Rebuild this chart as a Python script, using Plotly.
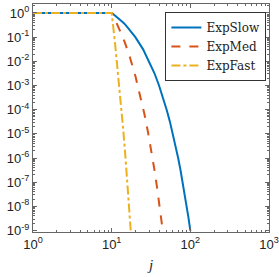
import plotly.graph_objects as go

# --- data ---
j_slow = [1, 10, 11, 12, 13, 14, 15, 17, 20, 25, 30, 35, 40, 45, 50, 55, 60, 65, 70, 75, 80, 85, 90, 95, 100]
exp_slow = [1, 1, 0.79, 0.63, 0.5, 0.4, 0.32, 0.2, 0.1, 3.2e-2, 1e-2, 3.2e-3, 1e-3, 3.2e-4, 1e-4,
            3.2e-5, 1e-5, 3.2e-6, 1e-6, 3.2e-7, 1e-7, 3.2e-8, 1e-8, 3.2e-9, 1e-9]

j_med = [1, 10, 11, 12, 13, 14, 15, 17, 20, 23, 26, 29, 32, 35, 38, 41, 44, 45]
exp_med = [1, 1, 0.55, 0.30, 0.17, 9.1e-2, 5e-2, 1.5e-2, 2.5e-3, 4.2e-4, 6.9e-5, 1.15e-5,
           1.9e-6, 3.2e-7, 5.2e-8, 8.7e-9, 1.4e-9, 7.9e-10]

j_fast = [1, 10, 11, 12, 13, 14, 15, 16, 17, 18]
exp_fast = [1, 1, 6.3e-2, 4e-3, 2.5e-4, 1.6e-5, 1e-6, 6.3e-8, 4e-9, 2.5e-10]

names = ["ExpSlow", "ExpMed", "ExpFast"]
colors = ["#0072BD", "#D95319", "#EDB120"]
dashes = ["solid", "dash", "dashdot"]

x_tickvals = [1, 10, 100, 1000]
x_ticktext = ["10<sup>0</sup>", "10<sup>1</sup>", "10<sup>2</sup>", "10<sup>3</sup>"]
y_tickvals = [1, 1e-1, 1e-2, 1e-3, 1e-4, 1e-5, 1e-6, 1e-7, 1e-8, 1e-9]
y_ticktext = ["10<sup>0</sup>", "10<sup>-1</sup>", "10<sup>-2</sup>", "10<sup>-3</sup>", "10<sup>-4</sup>",
              "10<sup>-5</sup>", "10<sup>-6</sup>", "10<sup>-7</sup>", "10<sup>-8</sup>", "10<sup>-9</sup>"]

fig = go.Figure()
for xs, ys, nm, c, d in zip([j_slow, j_med, j_fast], [exp_slow, exp_med, exp_fast], names, colors, dashes):
    fig.add_trace(go.Scatter(x=xs, y=ys, mode="lines", name=nm,
                             line=dict(color=c, width=2, dash=d)))

axis_common = dict(
    type="log", showgrid=False, zeroline=False, automargin=False,
    showline=True, linecolor="#666666", linewidth=1, mirror="ticks",
    ticks="inside", ticklen=4, tickcolor="#666666",
    minor=dict(ticks="inside", ticklen=2, tickcolor="#666666", showgrid=False, dtick="D1"),
    tickfont=dict(family="Liberation Sans, Arial", size=13, color="#222222"),
)

fig.update_layout(
    width=279, height=277,
    margin=dict(l=33, r=10, t=4, b=45),
    plot_bgcolor="white", paper_bgcolor="white",
    xaxis=dict(axis_common, range=[0, 3], tickvals=x_tickvals, ticktext=x_ticktext,
               title=dict(text="<i>j</i>", font=dict(family="Liberation Serif", size=15, color="#222222"),
                          standoff=8)),
    yaxis=dict(axis_common, range=[-9.06, 0.37], tickvals=y_tickvals, ticktext=y_ticktext),
    legend=dict(x=0.561, y=0.965, xanchor="left", yanchor="top",
                bgcolor="white", bordercolor="#333333", borderwidth=1,
                font=dict(family="DejaVu Serif", size=12, color="#222222"),
                itemwidth=30, tracegroupgap=0),
    showlegend=True,
)

fig.write_html("out.html", config={"displayModeBar": False},
               post_script="document.body.style.margin='0';document.body.style.padding='0';")
